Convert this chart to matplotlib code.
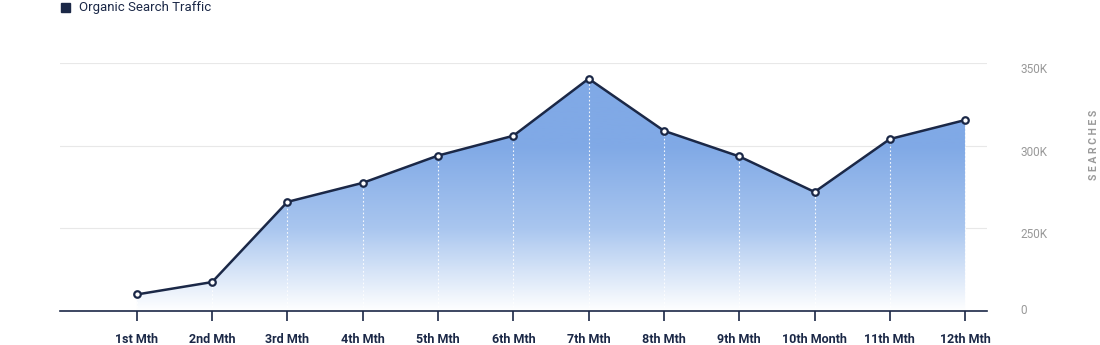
import matplotlib.pyplot as plt
import numpy as np
from matplotlib.colors import LinearSegmentedColormap

months = ["1st Mth", "2nd Mth", "3rd Mth", "4th Mth", "5th Mth", "6th Mth",
          "7th Mth", "8th Mth", "9th Mth", "10th Month", "11th Mth", "12th Mth"]
# searches in K (axis bottom sits at 200K, labelled "0")
traffic = [210, 217.5, 266, 277.5, 294, 306, 340.5, 309, 293.5, 272, 304, 315.5]
ytick_vals = [200, 250, 300, 350]
ytick_labels = ["0", "250K", "300K", "350K"]

navy = "#1b2847"
plt.rcParams['font.family'] = ['Roboto', 'DejaVu Sans']

fig = plt.figure(figsize=(11, 3.45), dpi=100)
ax = fig.add_axes([60/1100, 1-311/345, 927/1100, (311-63)/345])
x = np.arange(len(months))
ax.set_xlim(-1.02, 11.29)
ax.set_ylim(200, 350)

# gradient fill under the line
poly = ax.fill_between(x, traffic, 200, color='none', lw=0)
cmap = LinearSegmentedColormap.from_list('g', ['#ffffff', '#a9c6ef', '#80a9e6', '#80a9e6'])
grad = np.linspace(0, 1, 256).reshape(-1, 1)
img = ax.imshow(grad, cmap=cmap, aspect='auto', origin='lower',
                extent=[-1.02, 11.29, 200, 350], zorder=1)
path = poly.get_paths()[0]
img.set_clip_path(path, transform=ax.transData)

for xi, yi in zip(x, traffic):
    ax.plot([xi, xi], [200, yi], color='white', lw=0.8, ls=(0, (1.5, 2)), zorder=2, alpha=0.9)

ax.plot(x, traffic, color=navy, lw=1.8, zorder=3)
ax.scatter(x, traffic, s=22, facecolor='white', edgecolor=navy, linewidths=1.6, zorder=4)

for v in ytick_vals[1:]:
    ax.axhline(v, color='#e8e8e8', lw=0.8, zorder=0)

for s in ['top', 'right', 'left']:
    ax.spines[s].set_visible(False)
ax.spines['bottom'].set_color(navy)
ax.spines['bottom'].set_linewidth(1.2)

ax.set_xticks(x)
ax.set_xticklabels(months, fontsize=9, fontweight='bold', color=navy)
ax.tick_params(axis='x', length=7, width=1.2, color=navy, pad=9)

ax.yaxis.tick_right()
ax.set_yticks(ytick_vals)
ax.set_yticklabels(ytick_labels, fontsize=8.5, color='#999999', va='top')
for lbl in ax.get_yticklabels()[:1]:
    lbl.set_va('center')
ax.tick_params(axis='y', length=0, pad=24)

fig.text(1094/1100, 1-145/345, "S E A R C H E S", rotation=90, fontsize=7.5,
         color='#999999', ha='center', va='center', fontweight='bold')

fig.patches.append(plt.Rectangle((61/1100, 1-12/345), 9/1100, 9/345, color=navy,
                                 transform=fig.transFigure, figure=fig))
fig.text(79/1100, 1-7/345, "Organic Search Traffic", fontsize=9.5, color=navy, va='center')

fig.savefig("out.png", dpi=100)
